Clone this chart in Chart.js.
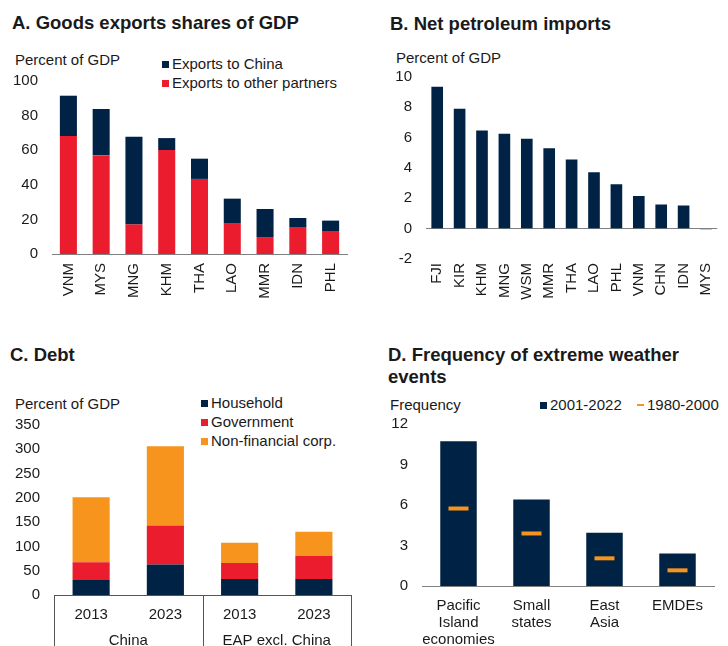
<!DOCTYPE html>
<html>
<head>
<meta charset="utf-8">
<script src="https://cdn.jsdelivr.net/npm/chart.js@4"></script>
<style>
    html, body { margin: 0; padding: 0; background: #fff; }
    body { width: 728px; height: 646px; position: relative; overflow: hidden;
           font-family: Arial, "Liberation Sans", sans-serif; color: #1a1a1a; }
    canvas { position: absolute; }
    .title { position: absolute; font-weight: bold; font-size: 18.5px; line-height: 22px; white-space: nowrap; }
    .unit { position: absolute; font-size: 15px; line-height: 18px; white-space: nowrap; }
    .key { position: absolute; font-size: 15px; line-height: 18px; white-space: nowrap;
           display: flex; align-items: center; }
    .sq { display: inline-block; width: 7px; height: 7px; margin-right: 3px; }
    .dash { display: inline-block; width: 7px; height: 2px; margin-right: 3px; }
</style>
</head>
<body>

<div class="title" style="left:12px; top:12px;">A. Goods exports shares of GDP</div>
<div class="unit" style="left:15px; top:51px;">Percent of GDP</div>
<div class="key" style="left:162px; top:55px;"><span class="sq" style="background:#002345"></span>Exports to China</div>
<div class="key" style="left:162px; top:74px;"><span class="sq" style="background:#EB1C2D"></span>Exports to other partners</div>
<canvas id="chartA" width="364" height="323" style="left:0; top:0;"></canvas>

<div class="title" style="left:390px; top:13px;">B. Net petroleum imports</div>
<div class="unit" style="left:396px; top:49px;">Percent of GDP</div>
<canvas id="chartB" width="364" height="323" style="left:364px; top:0;"></canvas>

<div class="title" style="left:10px; top:344px;">C. Debt</div>
<div class="unit" style="left:15px; top:395px;">Percent of GDP</div>
<div class="key" style="left:201px; top:394px;"><span class="sq" style="background:#002345"></span>Household</div>
<div class="key" style="left:201px; top:413px;"><span class="sq" style="background:#EB1C2D"></span>Government</div>
<div class="key" style="left:201px; top:432px;"><span class="sq" style="background:#F7941D"></span>Non-financial corp.</div>
<canvas id="chartC" width="364" height="323" style="left:0; top:323px;"></canvas>

<div class="title" style="left:388px; top:344px;">D. Frequency of extreme weather<br>events</div>
<div class="unit" style="left:390px; top:396px;">Frequency</div>
<div class="key" style="left:540px; top:396px;"><span class="sq" style="background:#002345"></span>2001-2022</div>
<div class="key" style="left:637px; top:396px;"><span class="dash" style="background:#F7941D"></span>1980-2000</div>
<canvas id="chartD" width="364" height="323" style="left:364px; top:323px;"></canvas>

<script>
// Panel A: goods exports, percent of GDP
const exportCountries = ['VNM', 'MYS', 'MNG', 'KHM', 'THA', 'LAO', 'MMR', 'IDN', 'PHL'];
const exportsToChina = [23.3, 26.8, 50.7, 6.9, 11.7, 14.1, 16.2, 5.6, 6.0];
const exportsToOthers = [68.2, 57.0, 17.1, 60.1, 43.4, 17.9, 9.8, 15.2, 13.3];

// Panel B: net petroleum imports, percent of GDP
const petroCountries = ['FJI', 'KIR', 'KHM', 'MNG', 'WSM', 'MMR', 'THA', 'LAO', 'PHL', 'VNM', 'CHN', 'IDN', 'MYS'];
const petroImports = [9.36, 7.91, 6.48, 6.26, 5.93, 5.31, 4.56, 3.72, 2.93, 2.16, 1.59, 1.52, -0.05];

// Panel C: debt by sector, percent of GDP
const debtYears = ['2013', '2023', '2013', '2023'];
const debtGroups = ['China', 'EAP excl. China'];
const householdDebt = [31, 63, 33, 33];
const governmentDebt = [36.5, 80, 33, 48];
const corporateDebt = [134, 163, 41.5, 49];

// Panel D: extreme weather events
const weatherRegions = [['Pacific', 'Island', 'economies'], ['Small', 'states'], ['East', 'Asia'], ['EMDEs']];
const freqRecent = [10.72, 6.41, 3.94, 2.41];
const freqEarlier = [5.74, 3.89, 2.05, 1.16];

const NAVY = '#002345';
const RED = '#EB1C2D';
const ORANGE = '#F7941D';
const TEXT = '#1a1a1a';

Chart.defaults.font.family = 'Arial, "Liberation Sans", sans-serif';
Chart.defaults.font.size = 15;
Chart.defaults.color = TEXT;

// fixed plot box so the four panels line up
function sizeScales(yWidth, xHeight) {
    return {
        y: scale => { scale.width = yWidth; },
        x: scale => { scale.height = xHeight; }
    };
}

function commonOptions(area, yTicks, xTicks, axisColor) {
    const fit = sizeScales(area.left, 323 - area.bottom);
    return {
        responsive: false,
        devicePixelRatio: 1,
        animation: false,
        events: [],
        layout: { padding: { top: area.top, right: 364 - area.right, left: 0, bottom: 0 } },
        plugins: { legend: { display: false }, tooltip: { enabled: false } },
        scales: {
            x: {
                stacked: true,
                grid: { display: false, drawTicks: false },
                border: { display: true, color: axisColor, width: 1 },
                ticks: Object.assign({ autoSkip: false, color: TEXT }, xTicks),
                afterFit: fit.x
            },
            y: {
                stacked: true,
                min: yTicks.min,
                max: yTicks.max,
                grid: { display: false, drawTicks: false },
                border: { display: false },
                ticks: { stepSize: yTicks.step, padding: 14, color: TEXT },
                afterFit: fit.y
            }
        }
    };
}

// A. stacked bars
new Chart(document.getElementById('chartA'), {
    type: 'bar',
    data: {
        labels: exportCountries,
        datasets: [
            { label: 'Exports to other partners', data: exportsToOthers, backgroundColor: RED },
            { label: 'Exports to China', data: exportsToChina, backgroundColor: NAVY }
        ].map(d => Object.assign(d, { categoryPercentage: 1, barPercentage: 0.52 }))
    },
    options: commonOptions({ left: 52, right: 347, top: 81, bottom: 254 },
            { min: 0, max: 100, step: 20 },
            { minRotation: 90, maxRotation: 90, padding: 9 }, '#808080')
});

// B. single series, zero line drawn through the y grid
const optsB = commonOptions({ left: 62, right: 364, top: 77, bottom: 259 },
        { min: -2, max: 10, step: 2 },
        { minRotation: 90, maxRotation: 90, padding: 4 }, '#808080');
optsB.scales.x.border.display = false;
optsB.scales.y.grid = {
    display: true,
    drawTicks: false,
    lineWidth: 1,
    color: ctx => ctx.tick && ctx.tick.value === 0 ? '#808080' : 'rgba(0,0,0,0)'
};
new Chart(document.getElementById('chartB'), {
    type: 'bar',
    data: {
        labels: petroCountries,
        datasets: [{ data: petroImports, backgroundColor: NAVY, categoryPercentage: 1, barPercentage: 0.52 }]
    },
    options: optsB
});

// C. debt, with group labels and separators under the axis
const groupAxisPlugin = {
    id: 'groupAxis',
    afterDraw(chart) {
        const ctx = chart.ctx;
        const x = chart.scales.x;
        const area = chart.chartArea;
        const perGroup = debtYears.length / debtGroups.length;
        ctx.save();
        ctx.strokeStyle = '#555';
        ctx.lineWidth = 1;
        const edges = [area.left];
        for (let g = 1; g < debtGroups.length; g++) {
            const i = g * perGroup;
            edges.push((x.getPixelForValue(i - 1) + x.getPixelForValue(i)) / 2);
        }
        edges.push(area.right);
        edges.forEach(px => {
            const xx = Math.round(px) + 0.5;
            ctx.beginPath();
            ctx.moveTo(xx, area.bottom);
            ctx.lineTo(xx, chart.height);
            ctx.stroke();
        });
        ctx.fillStyle = TEXT;
        ctx.font = '15px Arial, "Liberation Sans", sans-serif';
        ctx.textAlign = 'center';
        ctx.textBaseline = 'middle';
        debtGroups.forEach((name, g) => {
            const first = x.getPixelForValue(g * perGroup);
            const last = x.getPixelForValue(g * perGroup + perGroup - 1);
            ctx.fillText(name, (first + last) / 2, area.bottom + 46);
        });
        ctx.restore();
    }
};
new Chart(document.getElementById('chartC'), {
    type: 'bar',
    data: {
        labels: debtYears,
        datasets: [
            { label: 'Household', data: householdDebt, backgroundColor: NAVY },
            { label: 'Government', data: governmentDebt, backgroundColor: RED },
            { label: 'Non-financial corp.', data: corporateDebt, backgroundColor: ORANGE }
        ].map(d => Object.assign(d, { categoryPercentage: 1, barPercentage: 0.5 }))
    },
    options: commonOptions({ left: 54, right: 351, top: 102, bottom: 272 },
            { min: 0, max: 350, step: 50 },
            { maxRotation: 0, padding: 11 }, '#555'),
    plugins: [groupAxisPlugin]
});

// D. bars with short markers for the earlier period
const optsD = commonOptions({ left: 58, right: 360, top: 101, bottom: 263 },
        { min: 0, max: 12, step: 3 },
        { maxRotation: 0, padding: 11, font: { size: 15, lineHeight: 1.13 } }, '#808080');
optsD.scales.x.stacked = false;
optsD.scales.y.stacked = false;
new Chart(document.getElementById('chartD'), {
    type: 'bar',
    data: {
        labels: weatherRegions,
        datasets: [
            {
                type: 'line', label: '1980-2000', data: freqEarlier, order: 0,
                showLine: false, pointStyle: 'line', pointRadius: 10,
                pointBorderWidth: 4, pointBorderColor: ORANGE, pointBackgroundColor: ORANGE
            },
            {
                label: '2001-2022', data: freqRecent, order: 1,
                backgroundColor: NAVY, categoryPercentage: 1, barPercentage: 0.5
            }
        ]
    },
    options: optsD
});
</script>
</body>
</html>
